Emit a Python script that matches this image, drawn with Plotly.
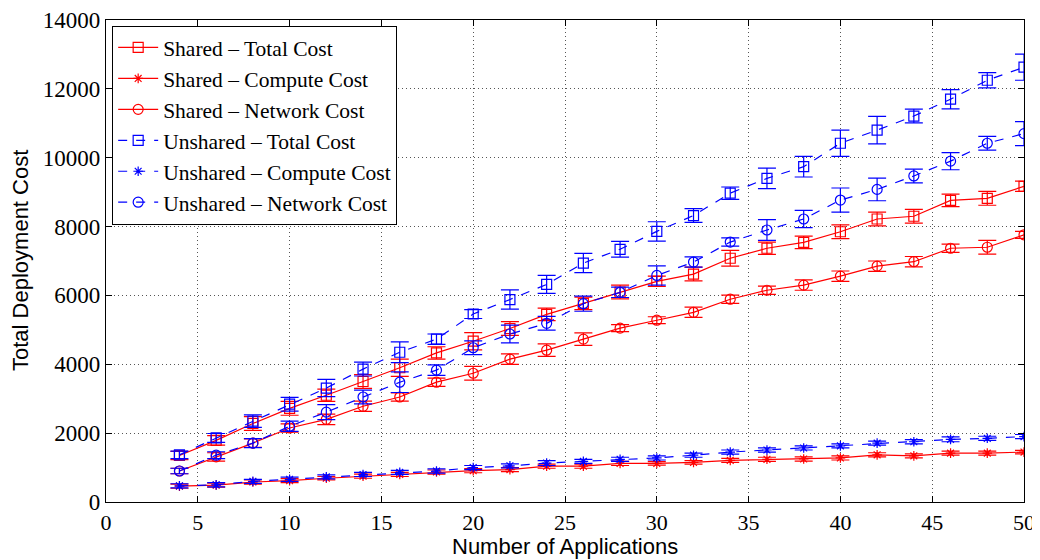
import plotly.graph_objects as go

apps = [4, 6, 8, 10, 12, 14, 16, 18, 20, 22, 24, 26, 28, 30, 32, 34, 36, 38, 40, 42, 44, 46, 48, 50]

shared_total = [1350, 1790, 2280, 2720, 3100, 3500, 3900, 4330, 4670, 5040, 5450, 5770, 6100, 6410, 6620, 7080, 7370, 7540, 7850, 8220, 8300, 8760, 8820, 9170]
shared_total_err = [120, 140, 200, 200, 180, 200, 250, 180, 250, 200, 180, 180, 200, 150, 200, 230, 180, 180, 200, 200, 200, 180, 200, 150]

shared_compute = [460, 490, 580, 620, 690, 750, 800, 870, 910, 940, 1040, 1040, 1120, 1120, 1150, 1210, 1240, 1250, 1280, 1370, 1340, 1420, 1420, 1450]
shared_compute_err = [60, 60, 60, 60, 50, 60, 60, 60, 60, 60, 60, 60, 60, 50, 50, 60, 60, 60, 60, 60, 60, 60, 60, 50]

shared_network = [900, 1310, 1710, 2150, 2400, 2780, 3050, 3480, 3740, 4150, 4410, 4730, 5050, 5280, 5510, 5890, 6150, 6300, 6560, 6850, 6980, 7370, 7400, 7760]
shared_network_err = [80, 120, 120, 120, 150, 150, 120, 120, 200, 150, 180, 180, 100, 100, 150, 120, 120, 150, 150, 150, 150, 120, 200, 100]

unshared_total = [1370, 1860, 2350, 2840, 3310, 3860, 4350, 4730, 5460, 5880, 6320, 6940, 7340, 7860, 8320, 8970, 9400, 9740, 10420, 10800, 11210, 11700, 12250, 12630]
unshared_total_err = [110, 130, 180, 200, 250, 200, 300, 150, 130, 280, 260, 280, 230, 280, 200, 180, 300, 300, 380, 400, 200, 280, 220, 380]

unshared_compute = [470, 500, 600, 660, 730, 800, 860, 900, 1000, 1050, 1130, 1180, 1240, 1280, 1360, 1450, 1510, 1570, 1630, 1710, 1750, 1820, 1850, 1900]
unshared_compute_err = [60, 60, 60, 60, 60, 60, 60, 60, 60, 60, 70, 60, 60, 60, 60, 60, 60, 60, 60, 60, 60, 70, 60, 60]

unshared_network = [900, 1360, 1710, 2200, 2610, 3050, 3480, 3830, 4480, 4880, 5190, 5760, 6090, 6580, 6970, 7550, 7900, 8220, 8770, 9080, 9470, 9900, 10420, 10700]
unshared_network_err = [80, 100, 130, 150, 220, 200, 300, 150, 200, 260, 200, 220, 150, 280, 150, 120, 300, 250, 350, 330, 200, 250, 200, 350]

x_ticks = [0, 5, 10, 15, 20, 25, 30, 35, 40, 45, 50]
y_ticks = [0, 2000, 4000, 6000, 8000, 10000, 12000, 14000]

x_title = "Number of Applications"
y_title = "Total Deployment Cost"

RED = "#ff0000"
BLUE = "#0000ff"

series = [
    ("Shared \u2013 Total Cost", shared_total, shared_total_err, RED, "solid", "square-open", 10),
    ("Shared \u2013 Compute Cost", shared_compute, shared_compute_err, RED, "solid", "asterisk-open", 8),
    ("Shared \u2013 Network Cost", shared_network, shared_network_err, RED, "solid", "circle-open", 10),
    ("Unshared \u2013 Total Cost", unshared_total, unshared_total_err, BLUE, "dash", "square-open", 10),
    ("Unshared \u2013 Compute Cost", unshared_compute, unshared_compute_err, BLUE, "dash", "asterisk-open", 8),
    ("Unshared \u2013 Network Cost", unshared_network, unshared_network_err, BLUE, "dash", "circle-open", 10),
]

fig = go.Figure()
for name, vals, errs, col, dash, sym, msize in series:
    fig.add_trace(go.Scatter(
        x=apps, y=vals, name=name, mode="lines+markers",
        line=dict(color=col, width=1.2, dash=dash),
        marker=dict(symbol=sym, size=msize, color=col, line=dict(color=col, width=1.2)),
        error_y=dict(type="data", array=errs, visible=True, color=col, thickness=1.2, width=9),
    ))

serif = "Liberation Serif"
sans = "Liberation Sans"

# page body has an 8px margin, so the figure is 1032x552 placed at (8, 8)
fig.update_layout(
    width=1032, height=552,
    margin=dict(l=98, r=16, t=12, b=58, autoexpand=False),
    paper_bgcolor="white", plot_bgcolor="white",
    showlegend=True,
    legend=dict(
        x=0.0065, y=0.988, xanchor="left", yanchor="top",
        bgcolor="white", bordercolor="black", borderwidth=1.2,
        font=dict(family=serif, size=21.5, color="black"),
        tracegroupgap=0, itemwidth=40,
    ),
    annotations=[
        dict(text=x_title, xref="paper", yref="paper", x=0.5, y=-44 / 482,
             xanchor="center", yanchor="middle", showarrow=False,
             font=dict(family=sans, size=22, color="black")),
        dict(text=y_title, xref="paper", yref="paper", x=-86 / 918, y=0.5,
             xanchor="center", yanchor="middle", showarrow=False, textangle=-90,
             font=dict(family=sans, size=22, color="black")),
    ],
)
grid = dict(showgrid=True, gridcolor="#555555", griddash="1px,3px", gridwidth=1)
fig.update_xaxes(
    range=[0, 50], tickvals=x_ticks, ticktext=[str(v) for v in x_ticks],
    ticks="inside", ticklen=6, tickcolor="black",
    showline=True, linecolor="black", linewidth=1.2, mirror="ticks",
    zeroline=False, automargin=False,
    tickfont=dict(family=serif, size=22, color="black"),
    **grid,
)
fig.update_yaxes(
    range=[0, 14000], tickvals=y_ticks, ticktext=[str(v) for v in y_ticks],
    ticks="inside", ticklen=6, tickcolor="black",
    showline=True, linecolor="black", linewidth=1.2, mirror="ticks",
    zeroline=False, automargin=False,
    tickfont=dict(family=serif, size=23, color="black"),
    **grid,
)

fig.write_html("out.html")
